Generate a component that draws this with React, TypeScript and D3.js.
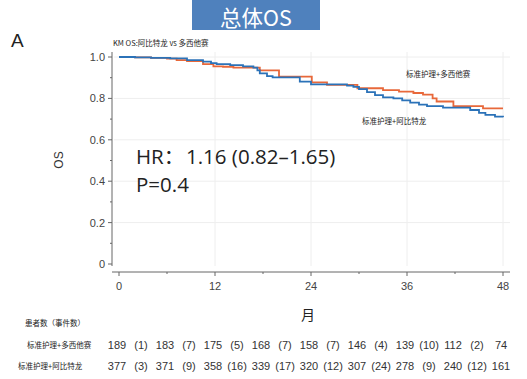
import React from "react";
import * as d3 from "d3";

const xTicks = [0, 12, 24, 36, 48];
const xMinorTicks = [6, 18, 30, 42];
const yTicks = [0, 0.2, 0.4, 0.6, 0.8, 1.0];
const yMinorTicks = [0.1, 0.3, 0.5, 0.7, 0.9];

// Kaplan-Meier steps: [month, survival]
const docetaxelCurve: [number, number][] = [
  [0, 1.0], [2, 0.998], [4, 0.996], [6, 0.992], [7.2, 0.985], [8.5, 0.98],
  [10.5, 0.966], [11.8, 0.955], [13, 0.953], [14.3, 0.949], [17.6, 0.935],
  [20, 0.905], [24.1, 0.877], [26, 0.865], [29.8, 0.849], [33, 0.84],
  [35, 0.833], [36.8, 0.826], [38, 0.818], [39.2, 0.8], [39.7, 0.785],
  [41.8, 0.763], [45.5, 0.752], [48, 0.752],
];
const abirateroneCurve: [number, number][] = [
  [0, 1.0], [2, 0.998], [4, 0.996], [6.4, 0.993], [8.5, 0.985], [10.5, 0.978],
  [11.5, 0.97], [12.2, 0.966], [13.9, 0.961], [15.5, 0.955], [16.8, 0.949],
  [17.3, 0.935], [17.6, 0.921], [18.5, 0.908], [19.2, 0.902], [22.6, 0.881],
  [24, 0.868], [28.5, 0.862], [29.3, 0.856], [30, 0.845], [31, 0.83],
  [32, 0.816], [33, 0.805], [34.3, 0.8], [35.4, 0.79], [36.4, 0.78],
  [37.5, 0.77], [38.5, 0.763], [40.5, 0.755], [43.9, 0.744], [45, 0.73],
  [45.8, 0.72], [47, 0.712], [48, 0.709],
];

const riskTimes = [0, 6, 12, 18, 24, 30, 36, 42, 48];
const docetaxelAtRisk = [189, 183, 175, 168, 158, 146, 139, 112, 74];
const docetaxelEvents = [1, 7, 5, 7, 7, 4, 10, 2];
const abirateroneAtRisk = [377, 371, 358, 339, 320, 307, 278, 240, 161];
const abirateroneEvents = [3, 9, 16, 17, 12, 24, 9, 12];

const W = 527;
const H = 379;
const sans = "'Liberation Sans', Arial, sans-serif";
const cjk = "'Noto Sans CJK SC', sans-serif";
const hrFont = "'Open Sans', 'Noto Sans', sans-serif";

export default function App() {
  const x = d3.scaleLinear().domain([0, 48]).range([119, 503]);
  const y = d3.scaleLinear().domain([0, 1]).range([264, 57]);
  const line = d3
    .line<[number, number]>()
    .x((d) => x(d[0]))
    .y((d) => y(d[1]))
    .curve(d3.curveStepAfter);
  const axisColor = "#666";
  const tickText = "#444";

  return (
    <svg
      width={W}
      height={H}
      style={{ position: "absolute", left: 0, top: 0, background: "#fff" }}
    >
      {/* title box */}
      <rect x={192} y={0} width={128} height={30} fill="#4f81bd" />
      <text x={256} y={26} textAnchor="middle" fill="#fff" fontSize={21.5} fontFamily={cjk}>
        总体OS
      </text>
      <text x={11} y={47} fontSize={19} fontFamily={sans} fill="#222">
        A
      </text>
      <text x={113} y={46} fontSize={7.5} fontFamily={cjk} fill="#222">
        KM OS:阿比特龙 vs 多西他赛
      </text>

      {/* grid */}
      {xTicks.slice(1).map((t) => (
        <line key={"gx" + t} x1={x(t)} x2={x(t)} y1={52} y2={266} stroke="#eeeeee" strokeWidth={1} />
      ))}
      {yTicks.slice(1).map((t) => (
        <line key={"gy" + t} x1={114} x2={510} y1={y(t)} y2={y(t)} stroke="#eeeeee" strokeWidth={1} />
      ))}

      {/* y axis */}
      <line x1={112} x2={112} y1={52} y2={266} stroke={axisColor} strokeWidth={1} />
      {yTicks.map((t) => (
        <g key={"yt" + t}>
          <line x1={108} x2={112} y1={y(t)} y2={y(t)} stroke={axisColor} />
          <text x={105} y={y(t) + 4} textAnchor="end" fontSize={11} fontFamily={sans} fill={tickText}>
            {t === 0 ? "0" : t.toFixed(1)}
          </text>
        </g>
      ))}
      {yMinorTicks.map((t) => (
        <line key={"ym" + t} x1={110} x2={112} y1={y(t)} y2={y(t)} stroke={axisColor} />
      ))}

      {/* x axis */}
      <line x1={112} x2={510} y1={272} y2={272} stroke={axisColor} strokeWidth={1} />
      {xTicks.map((t) => (
        <g key={"xt" + t}>
          <line x1={x(t)} x2={x(t)} y1={272} y2={276} stroke={axisColor} />
          <text x={x(t)} y={290} textAnchor="middle" fontSize={11} fontFamily={sans} fill={tickText}>
            {t}
          </text>
        </g>
      ))}
      {xMinorTicks.map((t) => (
        <line key={"xm" + t} x1={x(t)} x2={x(t)} y1={272} y2={274} stroke={axisColor} />
      ))}

      {/* axis titles */}
      <text
        transform={`translate(63,160) rotate(-90)`}
        textAnchor="middle"
        fontSize={12}
        fontFamily={sans}
        fill="#333"
      >
        OS
      </text>
      <text x={308} y={320} textAnchor="middle" fontSize={14} fontFamily={cjk} fill="#222">
        月
      </text>

      {/* curves */}
      <path d={line(docetaxelCurve) || ""} fill="none" stroke="#e8683a" strokeWidth={1.8} />
      <path d={line(abirateroneCurve) || ""} fill="none" stroke="#2b72b8" strokeWidth={1.8} />

      {/* curve labels */}
      <text x={406} y={77} fontSize={7.5} fontFamily={cjk} fill="#222">
        标准护理+多西他赛
      </text>
      <text x={362} y={124} fontSize={7.5} fontFamily={cjk} fill="#222">
        标准护理+阿比特龙
      </text>

      {/* HR text */}
      <text x={136} y={164} fontSize={20.5} fontFamily={hrFont} fill="#222">
        <tspan>HR</tspan>
        <tspan fontFamily={cjk}>：</tspan>
        <tspan x={186}>1.16 (0.82–1.65)</tspan>
      </text>
      <text x={136} y={192} fontSize={20.5} fontFamily={hrFont} fill="#222">
        P=0.4
      </text>

      {/* risk table */}
      <text x={25} y={326} fontSize={7.5} fontFamily={cjk} fill="#222">
        患者数（事件数）
      </text>
      <text x={27} y={348} fontSize={7.5} fontFamily={cjk} fill="#222">
        标准护理+多西他赛
      </text>
      <text x={18} y={369} fontSize={7.5} fontFamily={cjk} fill="#222">
        标准护理+阿比特龙
      </text>
      {riskTimes.map((t, i) => (
        <g key={"r" + t}>
          <text x={x(t) - 2} y={349} textAnchor="middle" fontSize={11} fontFamily={sans} fill="#333">
            {docetaxelAtRisk[i]}
          </text>
          <text x={x(t) - 2} y={370} textAnchor="middle" fontSize={11} fontFamily={sans} fill="#333">
            {abirateroneAtRisk[i]}
          </text>
        </g>
      ))}
      {riskTimes.slice(0, -1).map((t, i) => (
        <g key={"e" + t}>
          <text x={x(t + 3) - 2} y={349} textAnchor="middle" fontSize={11} fontFamily={sans} fill="#333">
            ({docetaxelEvents[i]})
          </text>
          <text x={x(t + 3) - 2} y={370} textAnchor="middle" fontSize={11} fontFamily={sans} fill="#333">
            ({abirateroneEvents[i]})
          </text>
        </g>
      ))}
    </svg>
  );
}
